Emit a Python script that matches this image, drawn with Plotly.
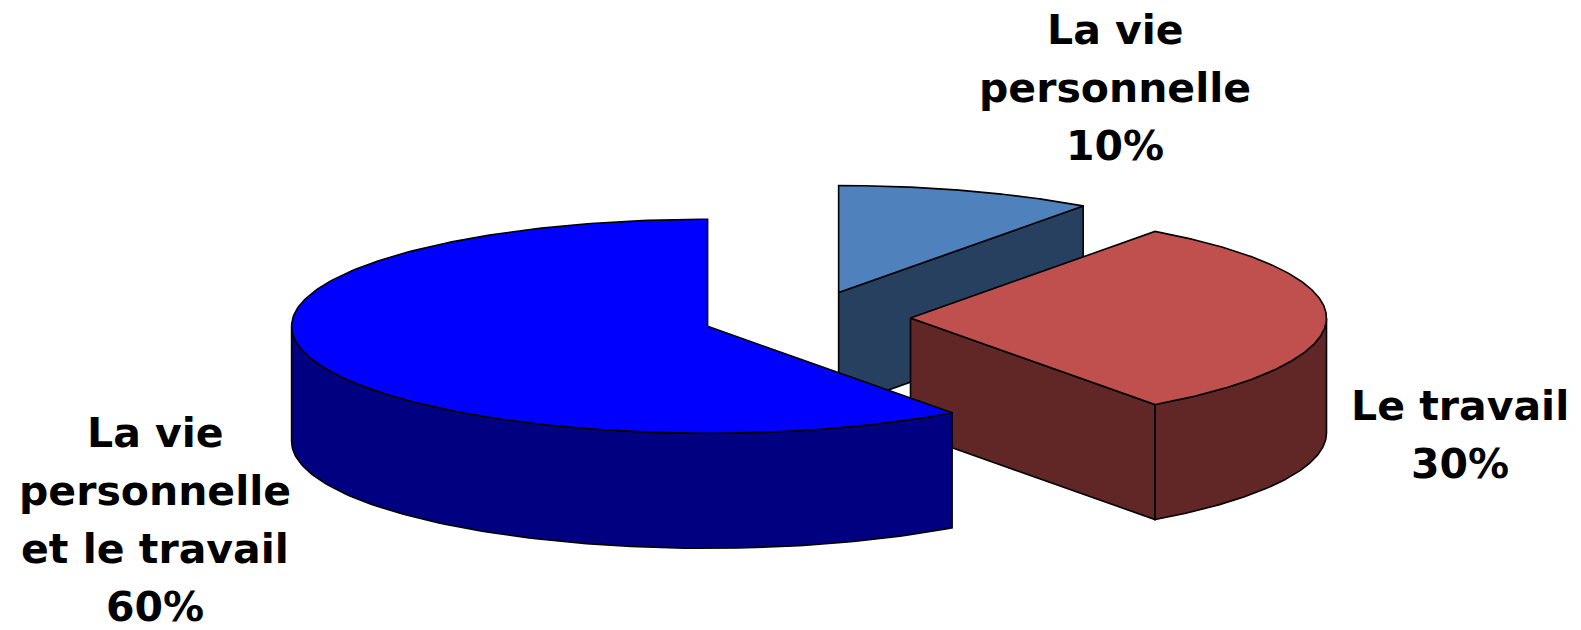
import numpy as np
import plotly.graph_objects as go

# ---- data ----
labels = ["La vie<br>personnelle", "Le travail", "La vie<br>personnelle<br>et le travail"]
values = [10, 30, 60]
top_colors = ["#4F81BD", "#C0504D", "#0000FF"]
side_colors = ["#28405F", "#612726", "#000080"]

# ---- geometry (pixel-like data units) ----
W, H = 1581, 630
CX, CY = 806.5, 318.0
RX, RY = 416.0, 107.0
DEPTH = 115.0
EXPLODE = 0.25
START = 90.0  # degrees, clockwise

total = float(sum(values))
fig = go.Figure()


def pt(cx, cy, t, dz=0.0):
    r = np.radians(t)
    return cx + RX * np.cos(r), cy - RY * np.sin(r) + dz


slices = []
cum = 0.0
for i, v in enumerate(values):
    a0 = START - cum / total * 360.0
    cum += v
    a1 = START - cum / total * 360.0
    mid = (a0 + a1) / 2.0
    ox = EXPLODE * RX * np.cos(np.radians(mid))
    oy = -EXPLODE * RY * np.sin(np.radians(mid))
    slices.append(dict(i=i, a0=a0, a1=a1, mid=mid, cx=CX + ox, cy=CY + oy))

# back-to-front
order = sorted(slices, key=lambda s: -np.sin(np.radians(s["mid"])))


def add_poly(xs, ys, color):
    fig.add_trace(go.Scatter(
        x=list(xs) + [xs[0]], y=list(ys) + [ys[0]], mode="lines", fill="toself",
        fillcolor=color, line=dict(color="black", width=1.6),
        hoverinfo="skip", showlegend=False))


for s in order:
    i, a0, a1, cx, cy = s["i"], s["a0"], s["a1"], s["cx"], s["cy"]
    # radial faces
    for ang, sign in ((a0, -1), (a1, 1)):
        c = np.cos(np.radians(ang))
        if sign * c > 1e-6:
            ex, ey = pt(cx, cy, ang)
            add_poly([cx, ex, ex, cx], [cy, ey, ey + DEPTH, cy + DEPTH], side_colors[i])
    # curved front side
    for k in (-1, 0, 1):
        lo = max(a1, -180 + 360 * k)
        hi = min(a0, 360 * k)
        if hi - lo > 1e-6:
            ts = np.linspace(lo, hi, 120)
            xs, ys = pt(cx, cy, ts)
            bx, by = pt(cx, cy, ts[::-1], DEPTH)
            add_poly(np.concatenate([xs, bx]), np.concatenate([ys, by]), side_colors[i])
    # top face
    ts = np.linspace(a1, a0, 240)
    xs, ys = pt(cx, cy, ts)
    add_poly(np.concatenate([[cx], xs]), np.concatenate([[cy], ys]), top_colors[i])

# ---- labels ----
label_pos = [(1115, 44), (1460, 420), (155, 447)]  # (center x, first baseline)
LINE = 58
FS = 41
for lab, v, (lx, ly) in zip(labels, values, label_pos):
    lines = lab.split("<br>") + [f"{v}%"]
    for j, txt in enumerate(lines):
        fig.add_annotation(
            x=lx, y=ly + j * LINE - 0.33 * FS, text=f"<b>{txt}</b>", showarrow=False,
            xanchor="center", yanchor="middle", borderpad=0,
            font=dict(family="DejaVu Sans", size=FS, color="black"))

fig.update_layout(
    width=W, height=H, margin=dict(l=0, r=0, t=0, b=0),
    paper_bgcolor="white", plot_bgcolor="white",
    xaxis=dict(range=[0, W], visible=False, fixedrange=True),
    yaxis=dict(range=[H, 0], visible=False, fixedrange=True),
)

fig.write_html("out.html")
